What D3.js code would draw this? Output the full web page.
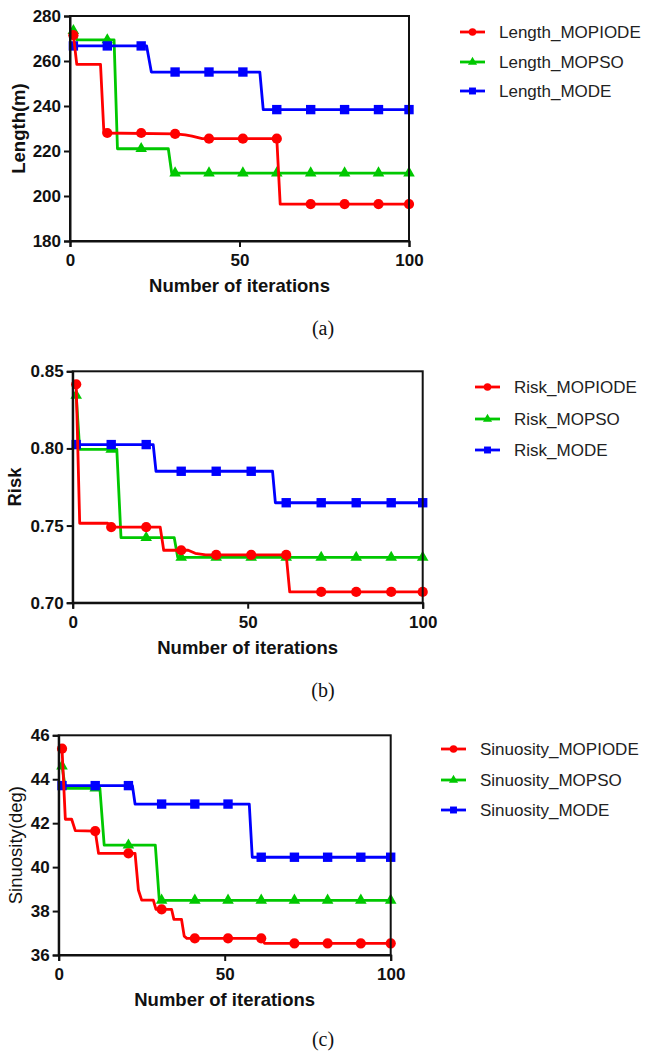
<!DOCTYPE html>
<html>
<head>
<meta charset="utf-8">
<script src="https://cdn.jsdelivr.net/npm/d3@7"></script>
<style>
  body { margin: 0; background: #fff; }
  svg { display: block; }
  .tick text { font-family: "Liberation Sans", Arial, sans-serif; font-weight: bold; font-size: 17px; fill: #111; }
  .legend text { font-family: "Liberation Sans", Arial, sans-serif; font-size: 17px; fill: #222; }
</style>
</head>
<body>
<svg id="chart" width="649" height="1055"></svg>
<script>
// iterations where the markers sit
var markIters = [1, 11, 21, 31, 41, 51, 61, 71, 81, 91, 100];
var xTicks = [0, 50, 100];

// (a) path length, vertices [iteration, value]
var lengthMOPIODE = [[0,272],[1,271.5],[2,258.5],[9,258.5],[10,228],[31,227.6],[34,227.2],[36,226.6],[39,225.5],[61,225.5],[62,196.4],[100,196.4]];
var lengthMOPSO   = [[0,274],[1,273.5],[2,269.4],[13,269.4],[14,221],[29,221],[30,210.2],[100,210.2]];
var lengthMODE    = [[0,266.7],[22.6,266.7],[24,255.1],[56,255.1],[57,238.4],[100,238.4]];
var lengthTicks   = [180, 200, 220, 240, 260, 280];

// (b) risk
var riskMOPIODE = [[0,0.843],[1,0.8416],[2,0.7515],[10,0.7515],[11,0.749],[25,0.749],[26,0.734],[33,0.734],[35,0.732],[38,0.731],[61,0.731],[62,0.707],[100,0.707]];
var riskMOPSO   = [[0,0.836],[1,0.8344],[2,0.7994],[12.6,0.7994],[13.8,0.7422],[29,0.7422],[30,0.7294],[100,0.7294]];
var riskMODE    = [[0,0.8025],[23,0.8025],[23.8,0.7852],[57.1,0.7852],[57.9,0.7648],[100,0.7648]];
var riskTicks   = [0.70, 0.75, 0.80, 0.85];

// (c) sinuosity
var sinMOPIODE = [[0,45.5],[1,45.39],[2,42.18],[3.9,42.18],[5,41.66],[11,41.64],[12,40.63],[23,40.63],[24,38.96],[25,38.5],[28.5,38.5],[29.3,38.08],[34,38.08],[34.7,37.62],[37,37.62],[37.8,36.86],[38.6,36.76],[61,36.76],[62,36.53],[100,36.53]];
var sinMOPSO   = [[0,44.7],[1,44.6],[2,43.59],[12.4,43.59],[13.7,41.0],[29.1,41.0],[30.3,38.49],[100,38.49]];
var sinMODE    = [[0,43.71],[22.2,43.71],[23,42.87],[57.4,42.87],[58.3,40.45],[100,40.45]];
var sinTicks   = [36, 38, 40, 42, 44, 46];

var colors = {MOPIODE: '#ff0000', MOPSO: '#00c800', MODE: '#0000ff'};
var symbols = {MOPIODE: d3.symbol(d3.symbolCircle, 82),
               MOPSO: d3.symbol(d3.symbolTriangle, 58),
               MODE: d3.symbol(d3.symbolSquare, 88)};
var legendSymbols = {MOPIODE: d3.symbol(d3.symbolCircle, 44),
                     MOPSO: d3.symbol(d3.symbolTriangle, 36),
                     MODE: d3.symbol(d3.symbolSquare, 48)};

var svg = d3.select('#chart');

// value of a stepped series at a given iteration (last vertex at or before it)
function valueAt(series, it) {
    var v = series[0][1];
    series.forEach(function (p) { if (p[0] <= it) v = p[1]; });
    return v;
}

function drawPanel(opt) {
    var x = d3.scaleLinear().domain([0, 100]).range([opt.left, opt.right]);
    var y = d3.scaleLinear().domain(opt.yDomain).range([opt.bottom, opt.top]);
    var g = svg.append('g');

    var line = d3.line().x(function (d) { return x(d[0]); }).y(function (d) { return y(d[1]); });

    // draw order: MOPSO, MODE, MOPIODE on top
    ['MOPSO', 'MODE', 'MOPIODE'].forEach(function (name) {
        var s = opt.series[name];
        g.append('path')
            .attr('d', line(s))
            .attr('fill', 'none')
            .attr('stroke', colors[name])
            .attr('stroke-width', 2.8)
            .attr('stroke-linejoin', 'round');
        g.selectAll('path.mk-' + name)
            .data(markIters)
            .enter()
            .append('path')
            .attr('class', 'mk-' + name)
            .attr('d', symbols[name])
            .attr('fill', colors[name])
            .attr('transform', function (d) {
                return 'translate(' + x(d) + ',' + y(valueAt(s, d)) + ')';
            });
    });

    // frame
    g.append('rect')
        .attr('x', opt.left).attr('y', opt.top)
        .attr('width', opt.right - opt.left).attr('height', opt.bottom - opt.top)
        .attr('fill', 'none').attr('stroke', '#111').attr('stroke-width', 2);

    var xAxis = g.append('g')
        .attr('transform', 'translate(0,' + opt.bottom + ')')
        .call(d3.axisBottom(x).tickValues(xTicks).tickSize(6).tickPadding(7));
    var yAxis = g.append('g')
        .attr('transform', 'translate(' + opt.left + ',0)')
        .call(d3.axisLeft(y).tickValues(opt.yTicks).tickSize(6).tickPadding(3).tickFormat(opt.fmt));
    [xAxis, yAxis].forEach(function (a) {
        a.select('.domain').attr('stroke', '#111').attr('stroke-width', 2);
        a.selectAll('.tick line').attr('stroke', '#111').attr('stroke-width', 2);
    });

    g.append('text')
        .attr('x', (opt.left + opt.right) / 2)
        .attr('y', opt.bottom + 51)
        .attr('text-anchor', 'middle')
        .style('font-family', '"Liberation Sans", Arial, sans-serif')
        .style('font-weight', 'bold')
        .style('font-size', '18.5px')
        .attr('fill', '#111')
        .text('Number of iterations');

    g.append('text')
        .attr('transform', 'translate(' + opt.yTitleX + ',' + (opt.top + opt.bottom) / 2 + ') rotate(-90)')
        .attr('text-anchor', 'middle')
        .style('font-family', '"Liberation Sans", Arial, sans-serif')
        .style('font-weight', opt.yTitleBold ? 'bold' : 'normal')
        .style('font-size', '18.5px')
        .attr('fill', '#111')
        .text(opt.yTitle);

    // legend
    var lg = g.append('g').attr('class', 'legend');
    ['MOPIODE', 'MOPSO', 'MODE'].forEach(function (name, i) {
        var ly = opt.legendY[i];
        lg.append('line')
            .attr('x1', opt.legendX).attr('x2', opt.legendX + 25)
            .attr('y1', ly).attr('y2', ly)
            .attr('stroke', colors[name]).attr('stroke-width', 2.8);
        lg.append('path')
            .attr('d', legendSymbols[name])
            .attr('fill', colors[name])
            .attr('transform', 'translate(' + (opt.legendX + 12.5) + ',' + ly + ')');
        lg.append('text')
            .attr('x', opt.legendX + 39)
            .attr('y', ly)
            .attr('dy', '0.35em')
            .text(opt.prefix + '_' + name);
    });

    svg.append('text')
        .attr('x', 323)
        .attr('y', opt.captionY)
        .attr('text-anchor', 'middle')
        .style('font-family', '"Liberation Serif", "Times New Roman", serif')
        .style('font-size', '20px')
        .attr('fill', '#111')
        .text(opt.caption);
}

drawPanel({left: 70, right: 409, top: 16, bottom: 241,
           yDomain: [180, 280], yTicks: lengthTicks, fmt: d3.format('d'),
           series: {MOPIODE: lengthMOPIODE, MOPSO: lengthMOPSO, MODE: lengthMODE},
           yTitle: 'Length(m)', yTitleBold: true, yTitleX: 25,
           prefix: 'Length', legendX: 460, legendY: [32, 62, 91],
           caption: '(a)', captionY: 335});

drawPanel({left: 72.7, right: 422.7, top: 371.3, bottom: 602.7,
           yDomain: [0.70, 0.85], yTicks: riskTicks, fmt: d3.format('.2f'),
           series: {MOPIODE: riskMOPIODE, MOPSO: riskMOPSO, MODE: riskMODE},
           yTitle: 'Risk', yTitleBold: true, yTitleX: 21,
           prefix: 'Risk', legendX: 475, legendY: [387, 419, 450],
           caption: '(b)', captionY: 697});

drawPanel({left: 58.7, right: 390.7, top: 735.3, bottom: 955,
           yDomain: [36, 46], yTicks: sinTicks, fmt: d3.format('d'),
           series: {MOPIODE: sinMOPIODE, MOPSO: sinMOPSO, MODE: sinMODE},
           yTitle: 'Sinuosity(deg)', yTitleBold: false, yTitleX: 22,
           prefix: 'Sinuosity', legendX: 441, legendY: [749, 780, 810],
           caption: '(c)', captionY: 1046});
</script>
</body>
</html>
